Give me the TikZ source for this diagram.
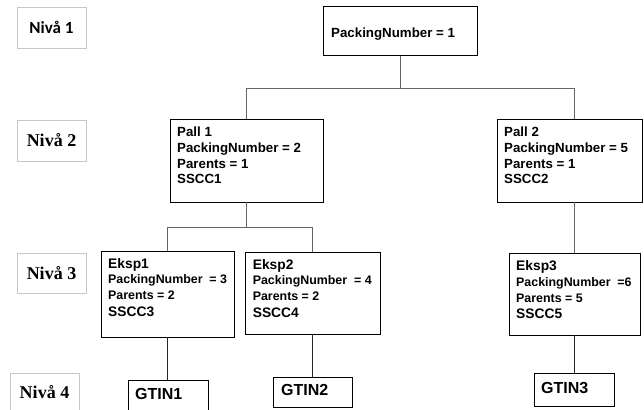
\documentclass[tikz,border=0pt]{standalone}
\usepackage{fontspec}
\setmainfont{Liberation Sans}
\newfontfamily\levelsans{Carlito}
\newfontfamily\levelserif{Liberation Serif}

\begin{document}
\begin{tikzpicture}[x=1pt, y=-1pt,
  box/.style={draw=black, line width=1pt, inner sep=0pt, outer sep=0pt},
  levelbox/.style={draw=black!22, line width=0.8pt, inner sep=0pt, outer sep=0pt,
    minimum width=69pt},
  wire/.style={draw=black!60, line width=0.9pt},
  wiredark/.style={draw=black!85, line width=0.9pt},
  lbl/.style={inner sep=0pt, anchor=base west, font=\bfseries\fontsize{13.3}{16}\selectfont},
  lblbig/.style={inner sep=0pt, anchor=base west, font=\bfseries\fontsize{13.8}{16}\selectfont},
  lblsmall/.style={inner sep=0pt, anchor=base west, font=\bfseries\fontsize{12.4}{15}\selectfont},
  lblgtin/.style={inner sep=0pt, anchor=base west, font=\bfseries\fontsize{16}{18}\selectfont},
  lvlsans/.style={font=\levelsans\bfseries\fontsize{17}{20}\selectfont},
  lvlserif/.style={font=\levelserif\bfseries\fontsize{18}{20}\selectfont}]

\fill[white] (0,0) rectangle (644,409);
\useasboundingbox (0,0) rectangle (644,409);
\clip (0,0) rectangle (644,409);

% level labels on the left
\node[levelbox, minimum height=41pt, lvlsans]  (n1) at (51.5,27.5)  {Nivå 1};
\node[levelbox, minimum height=41pt, lvlserif] (n2) at (51.5,140.5) {Nivå 2};
\node[levelbox, minimum height=40pt, lvlserif] (n3) at (51.5,273)   {Nivå 3};
\node[levelbox, minimum height=42pt] (n4) at (44.5,394) {};
\node[lvlserif, inner sep=0pt] (n4t) at (44.5,392) {Nivå 4};

% packing boxes
\node[box, minimum width=154pt, minimum height=49pt] (top) at (400,31.5) {};
\node[box, minimum width=153pt, minimum height=83pt] (p1) at (246.5,160.5) {};
\node[box, minimum width=145pt, minimum height=83pt] (p2) at (569.5,160.5) {};
\node[box, minimum width=133pt, minimum height=86pt] (e1) at (167.5,294) {};
\node[box, minimum width=134.5pt, minimum height=82pt] (e2) at (312.75,293) {};
\node[box, minimum width=131pt, minimum height=82pt] (e3) at (574.5,294) {};
\node[box, minimum width=80pt, minimum height=40pt] (g1) at (168,400) {};
\node[box, minimum width=78.5pt, minimum height=30pt] (g2) at (312.75,392) {};
\node[box, minimum width=80pt, minimum height=33pt] (g3) at (574,389.5) {};

% box texts
\node[lbl] (topt) at (331,37.7) {PackingNumber = 1};

\node[lbl] (p1a) at (177,136.8) {Pall 1};
\node[lbl] (p1b) at (177,152.6) {PackingNumber = 2};
\node[lbl] (p1c) at (177,168.2) {Parents = 1};
\node[lbl] (p1d) at (177,183.8) {SSCC1};

\node[lbl] (p2a) at (504,136.8) {Pall 2};
\node[lbl] (p2b) at (504,152.6) {PackingNumber = 5};
\node[lbl] (p2c) at (504,168.2) {Parents = 1};
\node[lbl] (p2d) at (504,183.8) {SSCC2};

\node[lblbig]   (e1a) at (108,268.5) {Eksp1};
\node[lblsmall] (e1b) at (108,283.5) {PackingNumber\ \ = 3};
\node[lblsmall] (e1c) at (108,299)   {Parents = 2};
\node[lblbig]   (e1d) at (108,316)   {SSCC3};

\node[lblbig]   (e2a) at (252.6,269.5) {Eksp2};
\node[lblsmall] (e2b) at (252.6,284.5) {PackingNumber\ \ = 4};
\node[lblsmall] (e2c) at (252.6,300)   {Parents = 2};
\node[lblbig]   (e2d) at (252.6,317)   {SSCC4};

\node[lblbig]   (e3a) at (516,270)   {Eksp3};
\node[lblsmall] (e3b) at (516,286.5) {PackingNumber\ \ =6};
\node[lblsmall] (e3c) at (516,302.5) {Parents = 5};
\node[lblbig]   (e3d) at (516,318)   {SSCC5};

\node[lblgtin] (g1t) at (135,399) {GTIN1};
\node[lblgtin] (g2t) at (281,395) {GTIN2};
\node[lblgtin] (g3t) at (541,393) {GTIN3};

% connectors
\coordinate (bus1) at (0,88);
\coordinate (bus2) at (0,227);
\draw[wire] (top.south) -- (top.south |- bus1);
\draw[wire] (p1.north) -- (p1.north |- bus1) -- (e3.north |- bus1) -- (e3.north |- p2.north);
\draw[wire] (p1.south) -- (p1.south |- bus2);
\draw[wire] (e1.north) -- (e1.north |- bus2) -- (e2.north |- bus2) -- (e2.north);
\draw[wire] (e3.north |- p2.south) -- (e3.north);
\draw[wiredark] (e1.south) -- (e1.south |- g1.north);
\draw[wiredark] (e2.south) -- (e2.south |- g2.north);
\draw[wiredark] (e3.south) -- (e3.south |- g3.north);
\end{tikzpicture}
\end{document}
